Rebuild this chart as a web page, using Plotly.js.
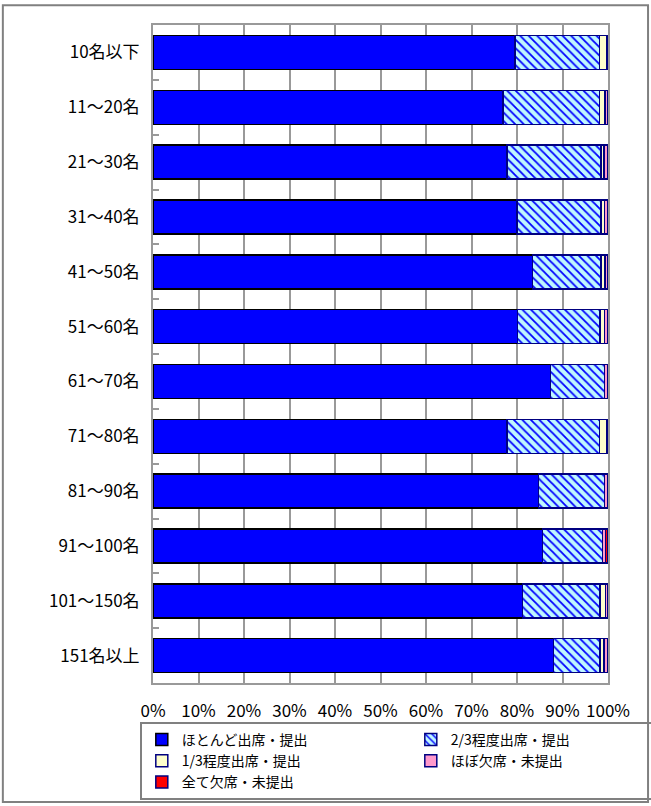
<!DOCTYPE html>
<html>
<head>
<meta charset="utf-8">
<script src="https://cdn.plot.ly/plotly-3.0.1.min.js"></script>
<style>html,body{margin:0;padding:0;background:#fff;}#chart{width:651px;height:806px;}</style>
</head>
<body>
<div id="chart"></div>
<script>
const categories = ["10名以下","11～20名","21～30名","31～40名","41～50名","51～60名","61～70名","71～80名","81～90名","91～100名","101～150名","151名以上"];
const seriesNames = ["ほとんど出席・提出","2/3程度出席・提出","1/3程度出席・提出","ほぼ欠席・未提出","全て欠席・未提出"];
const almostAll   = [79.6, 76.9, 77.8, 80.0, 83.4, 80.1, 87.4, 77.8, 84.7, 85.6, 81.2, 88.0];
const twoThirds   = [18.5, 21.2, 20.7, 18.5, 15.1, 18.1, 11.8, 20.3, 14.5, 13.2, 17.0, 10.2];
const oneThird    = [1.6, 1.2, 0.6, 0.7, 0.8, 1.0, 0.0, 1.6, 0.0, 0.0, 1.2, 0.9];
const mostlyAbsent= [0.3, 0.7, 0.9, 0.8, 0.7, 0.8, 0.8, 0.3, 0.8, 0.7, 0.6, 0.9];
const allAbsent   = [0.0, 0.0, 0.0, 0.0, 0.0, 0.0, 0.0, 0.0, 0.0, 0.5, 0.0, 0.0];
const xTicks = [0,10,20,30,40,50,60,70,80,90,100];
const xTickLabels = ["0%","10%","20%","30%","40%","50%","60%","70%","80%","90%","100%"];

const values = [almostAll, twoThirds, oneThird, mostlyAbsent, allAbsent];
const fills = ["#0000ff", "#ccffff", "#ffffcc", "#ff99cc", "#ff0000"];
const edges = ["#000000", "#000080", "#000080", "#000080", "#000080"];

const traces = values.map((v, i) => {
  const marker = {color: fills[i], line: {color: edges[i], width: 1.5}};
  if (i === 1) {
    marker.pattern = {shape: "\\", fgcolor: "#0000ff", bgcolor: "#bff7ff", size: 6, solidity: 0.3, fillmode: "replace"};
  }
  return {
    type: "bar", orientation: "h", name: seriesNames[i],
    y: categories, x: v, marker: marker, hoverinfo: "x+y+name"
  };
});

const font = "'Noto Sans CJK JP', 'Noto Sans', sans-serif";
const layout = {
  width: 651, height: 806,
  margin: {l: 153, r: 43, t: 25, b: 123, autoexpand: false},
  barmode: "stack", bargap: 0.38,
  paper_bgcolor: "#ffffff", plot_bgcolor: "#ffffff",
  font: {family: font, size: 17, color: "#000"},
  showlegend: true,
  xaxis: {
    range: [0, 100], tickvals: xTicks, ticktext: xTickLabels, ticks: "",
    showgrid: true, gridcolor: "#999999", gridwidth: 2,
    showline: true, linecolor: "#999999", linewidth: 2, mirror: true,
    zeroline: false, tickfont: {size: 17}, ticklabelstandoff: 12
  },
  yaxis: {
    type: "category", autorange: "reversed",
    ticks: "inside", tickson: "boundaries", ticklen: 6, tickwidth: 2, tickcolor: "#999999",
    showline: true, linecolor: "#999999", linewidth: 2, mirror: true,
    showgrid: false, tickfont: {size: 17}, ticklabelstandoff: 8
  },
  legend: {
    orientation: "h", x: -0.029, xanchor: "left", y: -0.0593, yanchor: "top",
    entrywidth: 224, entrywidthmode: "pixels",
    bordercolor: "#808080", borderwidth: 2, bgcolor: "rgba(255,255,255,0)",
    font: {size: 14}, traceorder: "normal", itemclick: false, itemdoubleclick: false,
    itemwidth: 30, tracegroupgap: 0
  },
  shapes: [{
    type: "rect", xref: "paper", yref: "paper",
    x0: -0.33, x1: 1.088, y0: -0.181, y1: 1.030,
    line: {color: "#808080", width: 2}, fillcolor: "rgba(0,0,0,0)", layer: "above"
  }]
};

Plotly.newPlot("chart", traces, layout, {displayModeBar: false});
</script>
</body>
</html>
